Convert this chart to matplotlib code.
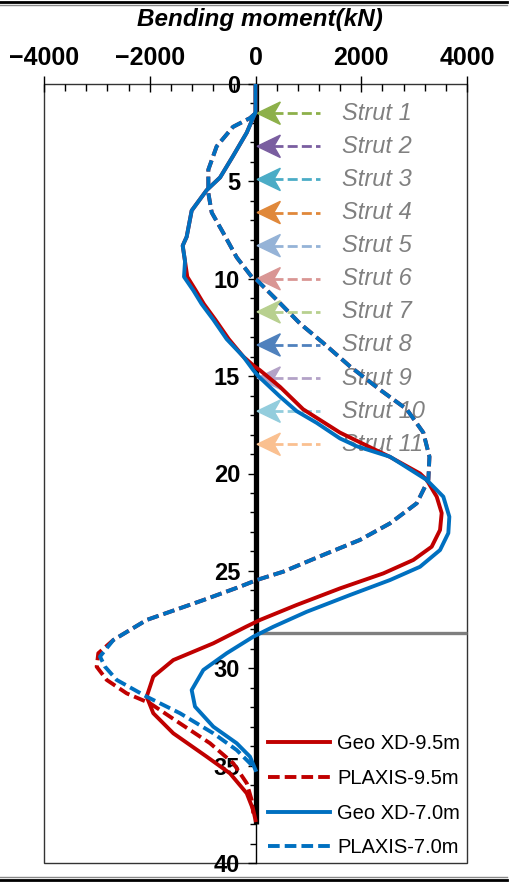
import matplotlib
matplotlib.use('Agg')
from matplotlib import pyplot as plt
from matplotlib.lines import Line2D
from matplotlib.patches import Polygon, Rectangle
from matplotlib.ticker import MultipleLocator

plt.rcParams['font.family'] = ['Liberation Sans', 'DejaVu Sans']

red = '#C00000'
blue = '#0070C0'

# Geo XD, excavation 9.5 m (moment kN, depth m)
geo95_m = [0, 0, -166, -425, -670, -923, -1207, -1302, -1377, -1333, -1290, -1130,
           -975, -760, -505, -230, -20, 85, 463, 900, 1598, 2544, 3111, 3238, 3427,
           3521, 3490, 3332, 2985, 2417, 1598, 779, 85, -180, -798, -1555, -1933,
           -2058, -1933, -1555, -923, -482, -166, -42, 0]
geo95_d = [0, 1.45, 2.5, 3.7, 4.8, 5.45, 6.5, 7.85, 8.3, 9.1, 9.9, 10.6,
           11.3, 12.1, 13.1, 14.0, 14.5, 14.7, 15.55, 16.7, 17.9, 19.15, 20.0, 20.33, 21.19,
           22.03, 22.9, 23.76, 24.44, 25.13, 25.9, 26.75, 27.52, 27.87, 28.72, 29.58, 30.43,
           31.46, 32.31, 33.34, 34.54, 35.4, 36.42, 37.28, 37.8]

# Geo XD, excavation 7.0 m
geo70_m = [0, 0, -166, -425, -670, -923, -1207, -1302, -1377, -1333, -1352, -1176,
           -1018, -798, -545, -230, -40, 53, 463, 779, 1157, 1598, 1914, 2544, 3238,
           3552, 3666, 3647, 3490, 3111, 2544, 1787, 968, 337, -42, -545, -987,
           -1207, -1144, -798, -356, -104, 0]
geo70_d = [0, 1.45, 2.5, 3.7, 4.8, 5.45, 6.5, 7.85, 8.3, 9.1, 9.9, 10.6,
           11.3, 12.1, 13.1, 14.0, 14.7, 15.0, 16.05, 16.8, 17.4, 18.2, 18.6, 19.14, 20.33,
           21.19, 22.22, 23.06, 23.93, 24.79, 25.47, 26.24, 27.1, 27.87, 28.38, 29.23, 30.09,
           31.12, 31.97, 33.0, 33.85, 34.54, 35.22]

# PLAXIS, excavation 7.0 m
plx70_m = [0, -104, -425, -734, -892, -892, -828, -609, -356, -72, 23, 463, 842,
           1282, 1787, 2355, 2860, 3174, 3290, 3269, 3049, 2544, 1976, 1282, 526,
           23, -293, -987, -2058, -2689, -2941, -2846, -2625, -2058, -1428, -798,
           -356, -42]
plx70_d = [1.5, 1.75, 2.2, 3.2, 4.4, 5.6, 6.6, 7.65, 8.9, 9.9, 10.06, 11.25, 12.3,
           13.3, 14.5, 15.7, 16.7, 17.9, 19.14, 20.33, 21.53, 22.56, 23.41, 24.18, 25.04,
           25.47, 25.81, 26.5, 27.52, 28.55, 29.4, 29.92, 30.6, 31.46, 32.31, 33.34,
           34.2, 35.05]

# PLAXIS, excavation 9.5 m
plx95_m = [0, -104, -425, -734, -892, -892, -828, -609, -356, -72, 23, 463, 842,
           1282, 1787, 2355, 2860, 3174, 3290, 3269, 3049, 2544, 1976, 1282, 526,
           23, -293, -987, -2058, -2689, -2973, -3004, -2814, -2436, -1995, -1428,
           -861, -420, -166, -72, -42]
plx95_d = [1.5, 1.75, 2.2, 3.2, 4.4, 5.6, 6.6, 7.65, 8.9, 9.9, 10.06, 11.25, 12.3,
           13.3, 14.5, 15.7, 16.7, 17.9, 19.14, 20.33, 21.53, 22.56, 23.41, 24.18, 25.04,
           25.47, 25.81, 26.5, 27.52, 28.55, 29.23, 29.92, 30.6, 31.29, 31.8, 32.83,
           33.85, 34.88, 35.9, 36.77, 37.45]

strut_names = ['Strut %d' % i for i in range(1, 12)]
strut_depth = [1.5, 3.2, 4.9, 6.6, 8.3, 10.0, 11.7, 13.4, 15.1, 16.8, 18.5]
strut_colors = ['#8DB04A', '#7A5EA0', '#4BACC6', '#E0883A', '#95B3D7', '#D99694',
                '#B8D08F', '#4F81BD', '#B3A2C7', '#93CDDD', '#FAC090']

wall_bottom = 38.0
excavation_line = 28.2

fig = plt.figure(figsize=(5.2, 8.84), dpi=100)
ax = fig.add_axes([44/520, 21/884, 423/520, 779/884])

# wall
ax.plot([0, 0], [0, wall_bottom], color='black', lw=3.8, solid_capstyle='butt', zorder=2)
# excavation level
ax.plot([0, 4000], [excavation_line, excavation_line], color='#7F7F7F', lw=2.4,
        solid_capstyle='butt', zorder=2, clip_on=False)

# struts
L = 440
w = 1.15
for name, d, c in zip(strut_names, strut_depth, strut_colors):
    tip = 30
    ax.plot([tip + 0.7*L, 1220], [d, d], color=c, lw=2, dashes=(3.6, 1.5), zorder=3)
    head = Polygon([(tip, d), (tip + L, d - w/2), (tip + 0.72*L, d), (tip + L, d + w/2)],
                   closed=True, color=c, zorder=3)
    ax.add_patch(head)
    ax.text(1640, d, name, color='#808080', fontsize=17, style='italic',
            va='center', ha='left', zorder=3)

ax.plot(geo95_m, geo95_d, color=red, lw=2.8, label='Geo XD-9.5m', zorder=4)
ax.plot(plx95_m, plx95_d, color=red, lw=2.8, ls=(0, (3, 1.3)), label='PLAXIS-9.5m', zorder=4)
ax.plot(geo70_m, geo70_d, color=blue, lw=2.8, label='Geo XD-7.0m', zorder=5)
ax.plot(plx70_m, plx70_d, color=blue, lw=2.8, ls=(0, (3, 1.3)), label='PLAXIS-7.0m', zorder=5)

ax.set_xlim(-4000, 4000)
ax.set_ylim(40, 0)

for s in ['top', 'bottom', 'right']:
    ax.spines[s].set_visible(False)
ax.spines['left'].set_position(('data', 0))
ax.spines['left'].set_linewidth(1.0)
ax.add_patch(Rectangle((0, 0), 1, 1, transform=ax.transAxes, fill=False,
                       lw=1.0, edgecolor='#333333', zorder=1, clip_on=False))

ax.xaxis.tick_top()
ax.xaxis.set_major_locator(MultipleLocator(2000))
ax.xaxis.set_minor_locator(MultipleLocator(400))
ax.yaxis.set_major_locator(MultipleLocator(5))
ax.yaxis.set_minor_locator(MultipleLocator(1))
ax.tick_params(axis='x', which='major', direction='inout', length=12, width=1,
               labelsize=18, pad=4)
ax.tick_params(axis='x', which='minor', direction='in', length=5, width=1)
ax.tick_params(axis='y', which='major', direction='out', length=6, width=1,
               labelsize=17, pad=5)
ax.tick_params(axis='y', which='minor', direction='out', length=4, width=1)
for lab in ax.get_xticklabels() + ax.get_yticklabels():
    lab.set_fontweight('bold')

fig.text(0.5, 0.978, 'Bending moment(kN)', ha='center', va='center',
         fontsize=17.5, fontweight='bold', style='italic')

ax.legend(loc='lower left', bbox_to_anchor=(0.51, -0.003), frameon=False,
          fontsize=14.5, handlelength=3.1, handletextpad=0.35, labelspacing=0.78,
          borderaxespad=0)

# page rules
fig.add_artist(Line2D([0, 507/520], [1 - 1.5/884, 1 - 1.5/884], color='black', lw=2))
fig.add_artist(Line2D([0, 507/520], [1 - 5/884, 1 - 5/884], color='#888888', lw=1))
fig.add_artist(Line2D([0, 507/520], [4/884, 4/884], color='black', lw=2))
fig.add_artist(Line2D([0, 507/520], [7.5/884, 7.5/884], color='#888888', lw=1))

fig.savefig('out.png', dpi=100)
